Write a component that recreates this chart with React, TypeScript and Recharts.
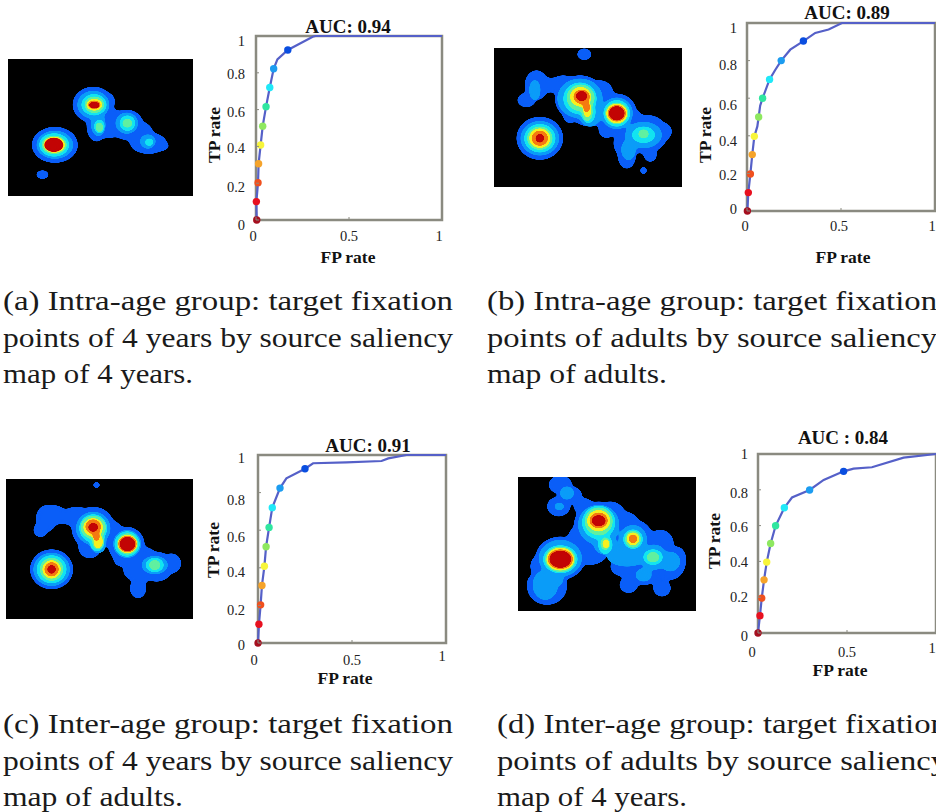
import React from 'react';
import { LineChart, Line, XAxis, YAxis, ReferenceArea, ScatterChart, Scatter } from 'recharts';

const xTicks = [0, 0.5, 1];
const yTicks = [0, 0.2, 0.4, 0.6, 0.8, 1];
const markerColors = ['#a50f1f', '#e8101f', '#f0501e', '#f5a32a', '#f7f53a', '#8ee860', '#30e6a0', '#20e8f8', '#1c9cf0', '#0a4ee0'];
const levelColors = ['#0a5ef8', '#0a9cf8', '#12e4f0', '#60f0a0', '#f6f020', '#f47a10', '#c20404'];

type P = [number, number];
const curveA: P[] = [[0.004, 0], [0.002, 0.10], [0.011, 0.203], [0.014, 0.306], [0.025, 0.408], [0.036, 0.51], [0.054, 0.616], [0.074, 0.72], [0.095, 0.822], [0.115, 0.873], [0.171, 0.924], [0.305, 0.996], [0.32, 1], [1, 1]];
const markersA: P[] = [[0.004, 0], [0.002, 0.10], [0.011, 0.203], [0.014, 0.306], [0.025, 0.408], [0.036, 0.51], [0.054, 0.616], [0.074, 0.72], [0.095, 0.822], [0.171, 0.924]];
const curveB: P[] = [[0.002, 0], [0.007, 0.098], [0.018, 0.197], [0.028, 0.30], [0.039, 0.397], [0.055, 0.45], [0.062, 0.50], [0.07, 0.56], [0.083, 0.60], [0.12, 0.70], [0.15, 0.75], [0.182, 0.80], [0.23, 0.858], [0.30, 0.904], [0.363, 0.947], [0.434, 0.965], [0.505, 1], [1, 1]];
const markersB: P[] = [[0.002, 0], [0.007, 0.098], [0.018, 0.197], [0.028, 0.30], [0.039, 0.397], [0.062, 0.50], [0.083, 0.60], [0.12, 0.70], [0.182, 0.80], [0.30, 0.904]];
const curveC: P[] = [[0, 0], [0.005, 0.10], [0.014, 0.203], [0.021, 0.306], [0.034, 0.408], [0.043, 0.512], [0.059, 0.615], [0.076, 0.72], [0.117, 0.824], [0.151, 0.876], [0.25, 0.927], [0.293, 0.956], [0.47, 0.961], [0.657, 0.968], [0.693, 0.982], [0.79, 1], [1, 1]];
const markersC: P[] = [[0, 0], [0.005, 0.10], [0.014, 0.203], [0.021, 0.306], [0.034, 0.408], [0.043, 0.512], [0.059, 0.615], [0.076, 0.72], [0.117, 0.824], [0.25, 0.927]];
const curveD: P[] = [[0, 0], [0.011, 0.097], [0.021, 0.195], [0.034, 0.297], [0.049, 0.396], [0.071, 0.50], [0.099, 0.599], [0.148, 0.70], [0.191, 0.757], [0.29, 0.799], [0.369, 0.855], [0.481, 0.903], [0.537, 0.918], [0.64, 0.926], [0.818, 0.98], [1, 1]];
const markersD: P[] = [[0, 0], [0.011, 0.097], [0.021, 0.195], [0.034, 0.297], [0.049, 0.396], [0.071, 0.50], [0.099, 0.599], [0.148, 0.70], [0.29, 0.799], [0.481, 0.903]];

type E = [number, number, number, number];
const mapA: E[][] = [
  [[165, 315, 69, 54], [128, 404, 20, 13], [280, 195, 62, 54], [290, 260, 30, 45], [310, 185, 35, 30], [340, 250, 40, 40], [380, 255, 50, 45], [320, 270, 50, 25], [420, 285, 40, 40], [445, 310, 55, 32], [475, 318, 32, 16]],
  [[165, 315, 55, 42], [280, 195, 48, 42], [295, 255, 22, 35], [380, 250, 34, 32], [443, 305, 24, 22]],
  [[163, 315, 45, 35], [282, 195, 38, 32], [298, 260, 16, 22], [382, 250, 24, 24], [447, 307, 14, 12]],
  [[163, 315, 38, 28], [283, 195, 30, 25], [298, 262, 12, 16], [382, 250, 16, 14]],
  [[163, 315, 33, 24], [283, 195, 25, 18]],
  [[162, 315, 30, 22], [283, 195, 21, 13]],
  [[162, 315, 29, 21], [283, 196, 19, 10]],
];
const mapB: E[][] = [
  [[283, 72, 22, 18], [140, 165, 35, 45], [110, 210, 28, 22], [180, 165, 40, 22], [220, 165, 40, 30], [270, 205, 75, 70], [240, 260, 20, 20], [300, 240, 60, 50], [330, 190, 40, 40], [380, 250, 60, 60], [350, 300, 25, 25], [430, 270, 30, 30], [460, 320, 70, 50], [470, 285, 50, 30], [510, 305, 35, 30], [400, 340, 30, 40], [410, 375, 28, 42], [480, 375, 20, 22], [460, 422, 11, 12], [150, 325, 70, 65]],
  [[135, 180, 17, 32], [270, 205, 68, 60], [300, 250, 35, 40], [380, 250, 48, 48], [460, 315, 55, 40], [415, 360, 22, 32], [150, 325, 58, 52]],
  [[270, 205, 50, 48], [295, 245, 22, 35], [380, 250, 40, 40], [460, 315, 35, 25], [150, 325, 47, 43]],
  [[272, 203, 42, 40], [292, 245, 16, 30], [380, 250, 35, 33], [460, 312, 17, 14], [150, 325, 38, 35]],
  [[272, 200, 32, 30], [292, 240, 12, 25], [380, 250, 32, 30], [150, 325, 32, 30]],
  [[275, 200, 25, 22], [290, 232, 10, 18], [380, 250, 28, 25], [150, 325, 25, 23]],
  [[275, 198, 18, 16], [380, 250, 24, 22], [150, 325, 14, 14]],
];
const mapC: E[][] = [
  [[290, 45, 12, 10], [140, 145, 32, 40], [122, 180, 22, 22], [160, 135, 40, 30], [190, 140, 50, 22], [230, 140, 45, 30], [280, 175, 65, 65], [330, 190, 40, 40], [270, 230, 35, 35], [380, 225, 55, 55], [365, 265, 25, 25], [430, 260, 40, 30], [400, 300, 30, 30], [470, 290, 50, 45], [515, 280, 30, 30], [415, 355, 25, 30], [420, 320, 30, 20], [155, 298, 65, 60]],
  [[280, 175, 52, 50], [295, 220, 25, 30], [382, 222, 42, 42], [465, 285, 40, 28], [155, 298, 55, 50]],
  [[280, 175, 42, 42], [292, 215, 22, 30], [382, 222, 38, 38], [465, 285, 28, 22], [155, 298, 45, 42]],
  [[280, 172, 38, 35], [295, 215, 18, 25], [383, 222, 32, 32], [465, 285, 18, 16], [155, 298, 35, 35]],
  [[280, 172, 30, 28], [295, 215, 14, 22], [383, 222, 30, 28], [155, 298, 28, 28]],
  [[280, 170, 24, 22], [290, 200, 10, 15], [383, 222, 28, 25], [155, 298, 22, 22]],
  [[280, 172, 16, 14], [383, 222, 24, 22], [155, 298, 14, 14]],
];
const mapD: E[][] = [
  [[150, 45, 35, 28], [180, 75, 35, 25], [145, 110, 35, 30], [220, 110, 30, 25], [265, 170, 75, 75], [300, 150, 50, 55], [340, 170, 50, 45], [240, 230, 60, 55], [200, 220, 30, 50], [370, 210, 60, 60], [450, 220, 40, 40], [430, 260, 70, 60], [480, 280, 45, 50], [500, 270, 28, 40], [340, 290, 40, 30], [355, 345, 28, 25], [455, 355, 27, 25], [150, 265, 75, 65], [100, 290, 40, 40], [110, 350, 60, 55], [70, 340, 20, 25], [400, 310, 50, 35]],
  [[170, 70, 22, 20], [147, 110, 16, 12], [265, 165, 62, 60], [285, 225, 35, 30], [368, 208, 42, 42], [350, 260, 60, 30], [430, 262, 40, 38], [150, 265, 65, 55], [105, 345, 38, 45], [130, 330, 30, 20], [400, 315, 25, 20], [480, 275, 30, 30]],
  [[265, 158, 50, 50], [285, 225, 22, 28], [368, 208, 30, 30], [428, 262, 30, 24], [150, 268, 52, 42]],
  [[265, 155, 42, 42], [285, 222, 15, 20], [368, 208, 24, 26], [428, 262, 20, 16], [150, 268, 46, 38]],
  [[265, 153, 35, 32], [287, 222, 11, 15], [368, 207, 20, 20], [150, 268, 42, 34]],
  [[265, 152, 28, 24], [368, 207, 14, 14], [287, 222, 6, 6], [150, 268, 38, 30]],
  [[265, 153, 22, 17], [150, 268, 33, 26]],
];

const captionA = ['(a) Intra-age group: target fixation', 'points of 4 years by source saliency', 'map of 4 years.'];
const captionB = ['(b) Intra-age group: target fixation', 'points of adults by source saliency', 'map of adults.'];
const captionC = ['(c) Inter-age group: target fixation', 'points of 4 years by source saliency', 'map of adults.'];
const captionD = ['(d) Inter-age group: target fixation', 'points of adults by source saliency', 'map of 4 years.'];

const SERIF = '"Liberation Serif", serif';
const PAD_L = 60, PAD_T = 40, PAD_R = 25, PAD_B = 70;
const FRAME = '#8a8a80';

function Roc({ left, top, w, h, curve, markers, title, titleX, titleY, fpX, fpY, tpX, tpY, yDy, xDx, xDy, yGap }: any) {
  const curveRows = curve.map(([fp, tp]: P) => ({ fp, tp }));
  const markerRows = markers.map(([fp, tp]: P) => ({ fp, tp }));
  const xTick = (p: any) => {
    const i = xTicks.indexOf(p.payload.value);
    return (
      <g>
        <line x1={p.x} x2={p.x} y1={PAD_T + h} y2={PAD_T + h - 3} stroke={FRAME} />
        <text x={p.x + xDx[i]} y={PAD_T + h + xDy[i]} dy=".35em" textAnchor="middle" fontFamily={SERIF} fontSize={14.5} fill="#222">{String(p.payload.value)}</text>
      </g>
    );
  };
  const yTick = (p: any) => {
    const i = yTicks.indexOf(p.payload.value);
    return (
      <g>
        <line x1={PAD_L} x2={PAD_L + 3} y1={p.y} y2={p.y} stroke={FRAME} />
        <text x={PAD_L - yGap} y={p.y + yDy[i]} dy=".35em" textAnchor="end" fontFamily={SERIF} fontSize={14.5} fill="#222">{String(p.payload.value)}</text>
      </g>
    );
  };
  const markerDot = (p: any) => <circle key={p.index} cx={p.cx} cy={p.cy} r={3.7} fill={markerColors[p.index]} />;
  return (
    <div style={{ position: 'absolute', left: left - PAD_L, top: top - PAD_T }}>
      <LineChart width={w + PAD_L + PAD_R} height={h + PAD_T + PAD_B} margin={{ top: PAD_T, left: 0, right: PAD_R, bottom: 0 }} style={{ overflow: 'visible' }}>
        <XAxis dataKey="fp" type="number" domain={[0, 1]} ticks={xTicks} interval={0} height={PAD_B} axisLine={false} tickLine={false} tick={xTick} allowDuplicatedCategory={false} />
        <YAxis dataKey="tp" type="number" domain={[0, 1]} ticks={yTicks} interval={0} width={PAD_L} axisLine={false} tickLine={false} tick={yTick} />
        <ReferenceArea x1={0} x2={1} y1={0} y2={1} fill="none" stroke={FRAME} strokeWidth={2.5} fillOpacity={0} ifOverflow="visible" />
        <Line data={curveRows} dataKey="tp" stroke="#5560c8" strokeWidth={2.2} dot={false} isAnimationActive={false} type="linear" />
        <Line data={markerRows} dataKey="tp" stroke="none" dot={markerDot} isAnimationActive={false} legendType="none" />
        <text x={titleX - left + PAD_L} y={titleY - top + PAD_T} dy=".35em" textAnchor="middle" fontFamily={SERIF} fontWeight="bold" fontSize={19} fill="#111">{title}</text>
        <text x={fpX - left + PAD_L} y={fpY - top + PAD_T} dy=".35em" textAnchor="middle" fontFamily={SERIF} fontWeight="bold" fontSize={17.5} fill="#111">FP rate</text>
        <text transform={`translate(${tpX - left + PAD_L},${tpY - top + PAD_T}) rotate(-90)`} dy=".35em" textAnchor="middle" fontFamily={SERIF} fontWeight="bold" fontSize={17.5} fill="#111">TP rate</text>
      </LineChart>
    </div>
  );
}

function Heat({ left, top, width, height, levels, xDomain, yDomain }: any) {
  const kx = width / (xDomain[1] - xDomain[0]);
  const ky = height / (yDomain[1] - yDomain[0]);
  const shape = (color: string) => (p: any) => (
    <ellipse cx={p.cx} cy={p.cy} rx={p.payload.rx * kx} ry={p.payload.ry * ky} fill={color} />
  );
  return (
    <div className="heat" style={{ position: 'absolute', left, top, width, height, background: '#000', filter: 'blur(0.7px)' }}>
      <ScatterChart width={width} height={height} margin={{ top: 0, left: 0, right: 0, bottom: 0 }}>
        <XAxis dataKey="x" type="number" domain={xDomain} hide allowDataOverflow />
        <YAxis dataKey="y" type="number" domain={yDomain} hide reversed allowDataOverflow />
        {levels.map((lvl: E[], i: number) => (
          <Scatter key={i} data={lvl.map(([x, y, rx, ry]) => ({ x, y, rx, ry }))} shape={shape(levelColors[i])} isAnimationActive={false} />
        ))}
      </ScatterChart>
    </div>
  );
}

function Caption({ x, ys, lines, lens }: any) {
  return (
    <>
      {lines.map((t: string, i: number) => (
        <text key={i} x={x} y={ys[i]} fontFamily={SERIF} fontSize={27} fill="#1a1a1a" textLength={lens[i]} lengthAdjust="spacingAndGlyphs">{t}</text>
      ))}
    </>
  );
}

export default function App() {
  return (
    <div style={{ position: 'fixed', left: 0, top: 0, width: 936, height: 812, overflow: 'hidden', background: '#fff' }}>
      <style>{`.heat .recharts-scatter { filter: url(#goo); }`}</style>
      <svg width={936} height={812} style={{ position: 'absolute', left: 0, top: 0 }}>
        <defs>
          <filter id="goo" x="-10%" y="-10%" width="120%" height="120%" colorInterpolationFilters="sRGB">
            <feGaussianBlur in="SourceGraphic" stdDeviation="2" result="b" />
            <feColorMatrix in="b" type="matrix" values="1 0 0 0 0  0 1 0 0 0  0 0 1 0 0  0 0 0 18 -8" />
          </filter>
        </defs>
        <Caption x={3} ys={[310, 347, 383]} lines={captionA} lens={[450, 450, 190]} />
        <Caption x={487} ys={[310, 347, 383]} lines={captionB} lens={[450, 450, 180]} />
        <Caption x={3} ys={[733, 770, 806]} lines={captionC} lens={[450, 450, 180]} />
        <Caption x={497} ys={[733, 770, 806]} lines={captionD} lens={[450, 450, 190]} />
      </svg>
      <Heat left={8} top={59} width={185} height={137} levels={mapA} xDomain={[25, 578]} yDomain={[58, 468]} />
      <Heat left={494} top={48} width={188} height={139} levels={mapB} xDomain={[13, 575]} yDomain={[53, 472]} />
      <Heat left={6} top={479} width={187} height={140} levels={mapC} xDomain={[18, 580]} yDomain={[27, 447]} />
      <Heat left={518} top={477} width={178} height={134} levels={mapD} xDomain={[23, 557]} yDomain={[22, 423]} />
      <Roc left={256} top={36} w={186} h={184} curve={curveA} markers={markersA} title="AUC: 0.94" titleX={348} titleY={26} fpX={348} fpY={257} tpX={214} tpY={135} yDy={[5, 4, 2, 2, 1, 5]} xDx={[-3, 0, -3]} xDy={[16, 16, 16]} yGap={11} />
      <Roc left={747} top={23} w={188} h={188} curve={curveB} markers={markersB} title="AUC: 0.89" titleX={847} titleY={12} fpX={843} fpY={257} tpX={705} tpY={135} yDy={[-2, 2, 5, 7, 4, 5]} xDx={[-2, -2, -3]} xDy={[15, 15, 15]} yGap={10} />
      <Roc left={258} top={455} w={188} h={188} curve={curveC} markers={markersC} title="AUC: 0.91" titleX={368} titleY={445} fpX={345} fpY={678} tpX={213} tpY={550} yDy={[2, 5, 4, 7, 7, 3]} xDx={[-4, 0, -4]} xDy={[17, 17, 13]} yGap={13} />
      <Roc left={758} top={454} w={178} h={179} curve={curveD} markers={markersD} title="AUC : 0.84" titleX={843} titleY={437} fpX={840} fpY={670} tpX={714} tpY={541} yDy={[3, 0, 1, 1, 3, 0]} xDx={[-6, 0, -4]} xDy={[19, 19, 15]} yGap={10} />
    </div>
  );
}
